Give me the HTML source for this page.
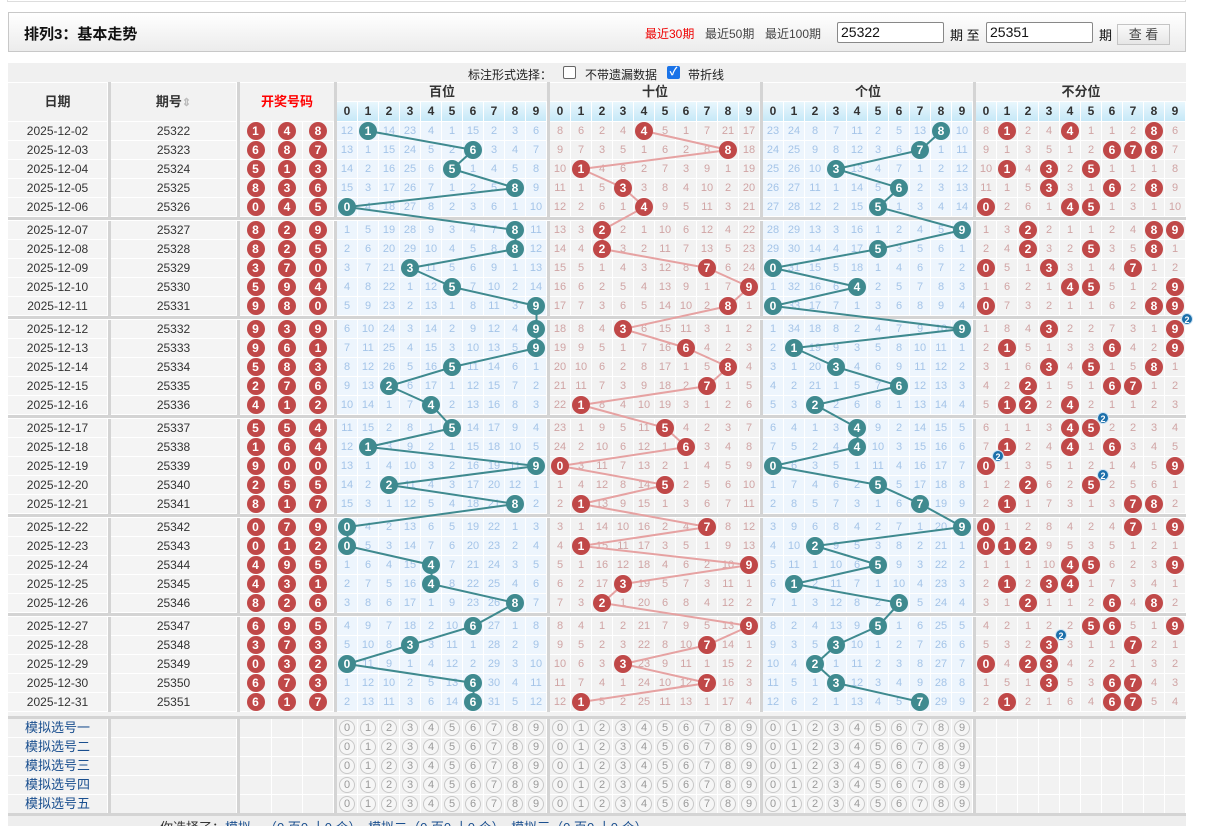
<!DOCTYPE html>
<html><head><meta charset="utf-8">
<style>
*{margin:0;padding:0;box-sizing:border-box}
body{width:1216px;height:826px;overflow:hidden;background:#fff;font-family:"Liberation Sans","Noto Sans CJK SC",sans-serif;position:relative;color:#333}
.a{position:absolute}
.r{position:absolute;left:8px;height:19px;width:1178px;display:flex;background:#fff}
.r>*{display:block;flex:none;height:18px;line-height:18px;margin-right:1px;text-align:center;font-size:11px}
e{width:99px;background:#f4f4f4;color:#333;font-size:12px!important}
f{width:125px;background:#f4f4f4;color:#333;font-size:12px!important}
g{width:30px;background:#f4f4f4}
g:first-of-type{width:31px}
.r>b{width:3px;height:19px;background:#d4d4d4;margin-right:0}
x{width:20px;background:#edf5fd;color:#a4c4e8}
y{width:20px;background:#f2f2f2;color:#d0a4a4}
k{display:inline-block;width:18px;height:18px;border-radius:50%;line-height:18px;color:#fff;font-weight:bold;font-size:12px;background:#c04848;position:relative;z-index:2;vertical-align:top}
x k{background:#3f8a8f}
m{position:absolute;top:-7px;right:-9px;width:12px;height:12px;border-radius:50%;background:#1b6faa;font-size:9px;line-height:12px;color:#fff;border:1px solid #cfe3f3}
.s e{color:#1a4f8f;font-size:13px!important;background:#f2f2f2}
.s f,.s g{background:#f2f2f2}
.s x,.s y{background:#f2f2f2}
o{display:inline-block;width:16px;height:16px;border:1px solid #c8c8c8;border-radius:50%;line-height:14px;color:#999;font-size:11px;margin-top:1px;background:#f6f6f6}
.hc{position:absolute;background:#f2f2f2;text-align:center;font-weight:bold;font-size:13px;color:#333}
.dg{position:absolute;top:102px;height:19px;display:flex}
.dg i{display:block;width:20px;margin-right:1px;height:19px;line-height:19px;text-align:center;font-style:normal;font-weight:bold;font-size:12px;background:linear-gradient(#e9f7fd,#c6e8f7);color:#333}
.vs{position:absolute;width:3px;background:#d4d4d4;top:82px;height:40px}
.hb{position:absolute;left:8px;width:1178px;height:3px;background:#d4d4d4}
</style></head><body>
<div class="a" style="left:7px;top:-6px;width:1179px;height:8px;border:1px solid #ddd"></div>
<div class="a" style="left:8px;top:12px;width:1178px;height:40px;border:1px solid #c8c8c8;background:linear-gradient(#fff,#ececec)"></div>
<div class="a" style="left:24px;top:23px;font-size:15px;font-weight:bold;color:#111">排列3：基本走势</div>
<div class="a" style="left:645px;top:25px;font-size:12px;color:#e00">最近30期</div>
<div class="a" style="left:705px;top:25px;font-size:12px;color:#444">最近50期</div>
<div class="a" style="left:765px;top:25px;font-size:12px;color:#444">最近100期</div>
<div class="a" style="left:837px;top:22px;width:107px;height:21px;border:1px solid #888;border-radius:2px;background:#fff;font-size:14px;line-height:19px;padding-left:3px;color:#111">25322</div>
<div class="a" style="left:950px;top:25px;font-size:13px;color:#111">期 至</div>
<div class="a" style="left:986px;top:22px;width:107px;height:21px;border:1px solid #888;border-radius:2px;background:#fff;font-size:14px;line-height:19px;padding-left:3px;color:#111">25351</div>
<div class="a" style="left:1099px;top:25px;font-size:13px;color:#111">期</div>
<div class="a" style="left:1117px;top:24px;width:53px;height:21px;border:1px solid #c4c4c4;background:linear-gradient(#fafafa,#e6e6e6);font-size:13px;line-height:19px;text-align:center;color:#444">查 看</div>

<div class="a" style="left:8px;top:63px;width:1178px;height:19px;background:#f0f0f0"></div>
<div class="a" style="left:468px;top:66px;font-size:12px;color:#222">标注形式选择：</div>
<div class="a" style="left:563px;top:66px;width:13px;height:13px;border:1px solid #666;border-radius:2px;background:#fff"></div>
<div class="a" style="left:585px;top:66px;font-size:12px;color:#222">不带遗漏数据</div>
<div class="a" style="left:667px;top:66px;width:13px;height:13px;border-radius:2px;background:#1a73e8;color:#fff;font-size:11px;line-height:13px;text-align:center;font-weight:bold">✓</div>
<div class="a" style="left:688px;top:66px;font-size:12px;color:#222">带折线</div>

<div class="hc" style="left:8px;top:83px;width:99px;height:38px;line-height:38px">日期</div>
<div class="hc" style="left:111px;top:83px;width:125px;height:38px;line-height:38px">期号<span style="color:#bbb;font-size:11px">⇕</span></div>
<div class="hc" style="left:240px;top:83px;width:94px;height:38px;line-height:38px;color:#f00">开奖号码</div>
<div class="hc" style="left:337px;top:83px;width:210px;height:18px;line-height:18px">百位</div>
<div class="hc" style="left:550px;top:83px;width:210px;height:18px;line-height:18px">十位</div>
<div class="hc" style="left:763px;top:83px;width:210px;height:18px;line-height:18px">个位</div>
<div class="hc" style="left:976px;top:83px;width:210px;height:18px;line-height:18px">不分位</div>
<div class="dg" style="left:337px"><i>0</i><i>1</i><i>2</i><i>3</i><i>4</i><i>5</i><i>6</i><i>7</i><i>8</i><i>9</i></div>
<div class="dg" style="left:550px"><i>0</i><i>1</i><i>2</i><i>3</i><i>4</i><i>5</i><i>6</i><i>7</i><i>8</i><i>9</i></div>
<div class="dg" style="left:763px"><i>0</i><i>1</i><i>2</i><i>3</i><i>4</i><i>5</i><i>6</i><i>7</i><i>8</i><i>9</i></div>
<div class="dg" style="left:976px"><i>0</i><i>1</i><i>2</i><i>3</i><i>4</i><i>5</i><i>6</i><i>7</i><i>8</i><i>9</i></div>
<div class="vs" style="left:108px"></div><div class="vs" style="left:237px"></div><div class="vs" style="left:334px"></div><div class="vs" style="left:547px"></div><div class="vs" style="left:760px"></div><div class="vs" style="left:973px"></div>

<div class="r" style="top:122px"><e>2025-12-02</e><b></b><f>25322</f><b></b><g><k>1</k></g><g><k>4</k></g><g><k>8</k></g><b></b><x>12</x><x><k>1</k></x><x>14</x><x>23</x><x>4</x><x>1</x><x>15</x><x>2</x><x>3</x><x>6</x><b></b><y>8</y><y>6</y><y>2</y><y>4</y><y><k>4</k></y><y>5</y><y>1</y><y>7</y><y>21</y><y>17</y><b></b><x>23</x><x>24</x><x>8</x><x>7</x><x>11</x><x>2</x><x>5</x><x>13</x><x><k>8</k></x><x>10</x><b></b><y>8</y><y><k>1</k></y><y>2</y><y>4</y><y><k>4</k></y><y>1</y><y>1</y><y>2</y><y><k>8</k></y><y>6</y></div>
<div class="r" style="top:141px"><e>2025-12-03</e><b></b><f>25323</f><b></b><g><k>6</k></g><g><k>8</k></g><g><k>7</k></g><b></b><x>13</x><x>1</x><x>15</x><x>24</x><x>5</x><x>2</x><x><k>6</k></x><x>3</x><x>4</x><x>7</x><b></b><y>9</y><y>7</y><y>3</y><y>5</y><y>1</y><y>6</y><y>2</y><y>8</y><y><k>8</k></y><y>18</y><b></b><x>24</x><x>25</x><x>9</x><x>8</x><x>12</x><x>3</x><x>6</x><x><k>7</k></x><x>1</x><x>11</x><b></b><y>9</y><y>1</y><y>3</y><y>5</y><y>1</y><y>2</y><y><k>6</k></y><y><k>7</k></y><y><k>8</k></y><y>7</y></div>
<div class="r" style="top:160px"><e>2025-12-04</e><b></b><f>25324</f><b></b><g><k>5</k></g><g><k>1</k></g><g><k>3</k></g><b></b><x>14</x><x>2</x><x>16</x><x>25</x><x>6</x><x><k>5</k></x><x>1</x><x>4</x><x>5</x><x>8</x><b></b><y>10</y><y><k>1</k></y><y>4</y><y>6</y><y>2</y><y>7</y><y>3</y><y>9</y><y>1</y><y>19</y><b></b><x>25</x><x>26</x><x>10</x><x><k>3</k></x><x>13</x><x>4</x><x>7</x><x>1</x><x>2</x><x>12</x><b></b><y>10</y><y><k>1</k></y><y>4</y><y><k>3</k></y><y>2</y><y><k>5</k></y><y>1</y><y>1</y><y>1</y><y>8</y></div>
<div class="r" style="top:179px"><e>2025-12-05</e><b></b><f>25325</f><b></b><g><k>8</k></g><g><k>3</k></g><g><k>6</k></g><b></b><x>15</x><x>3</x><x>17</x><x>26</x><x>7</x><x>1</x><x>2</x><x>5</x><x><k>8</k></x><x>9</x><b></b><y>11</y><y>1</y><y>5</y><y><k>3</k></y><y>3</y><y>8</y><y>4</y><y>10</y><y>2</y><y>20</y><b></b><x>26</x><x>27</x><x>11</x><x>1</x><x>14</x><x>5</x><x><k>6</k></x><x>2</x><x>3</x><x>13</x><b></b><y>11</y><y>1</y><y>5</y><y><k>3</k></y><y>3</y><y>1</y><y><k>6</k></y><y>2</y><y><k>8</k></y><y>9</y></div>
<div class="r" style="top:198px"><e>2025-12-06</e><b></b><f>25326</f><b></b><g><k>0</k></g><g><k>4</k></g><g><k>5</k></g><b></b><x><k>0</k></x><x>4</x><x>18</x><x>27</x><x>8</x><x>2</x><x>3</x><x>6</x><x>1</x><x>10</x><b></b><y>12</y><y>2</y><y>6</y><y>1</y><y><k>4</k></y><y>9</y><y>5</y><y>11</y><y>3</y><y>21</y><b></b><x>27</x><x>28</x><x>12</x><x>2</x><x>15</x><x><k>5</k></x><x>1</x><x>3</x><x>4</x><x>14</x><b></b><y><k>0</k></y><y>2</y><y>6</y><y>1</y><y><k>4</k></y><y><k>5</k></y><y>1</y><y>3</y><y>1</y><y>10</y></div>

<div class="r" style="top:221px"><e>2025-12-07</e><b></b><f>25327</f><b></b><g><k>8</k></g><g><k>2</k></g><g><k>9</k></g><b></b><x>1</x><x>5</x><x>19</x><x>28</x><x>9</x><x>3</x><x>4</x><x>7</x><x><k>8</k></x><x>11</x><b></b><y>13</y><y>3</y><y><k>2</k></y><y>2</y><y>1</y><y>10</y><y>6</y><y>12</y><y>4</y><y>22</y><b></b><x>28</x><x>29</x><x>13</x><x>3</x><x>16</x><x>1</x><x>2</x><x>4</x><x>5</x><x><k>9</k></x><b></b><y>1</y><y>3</y><y><k>2</k></y><y>2</y><y>1</y><y>1</y><y>2</y><y>4</y><y><k>8</k></y><y><k>9</k></y></div>
<div class="r" style="top:240px"><e>2025-12-08</e><b></b><f>25328</f><b></b><g><k>8</k></g><g><k>2</k></g><g><k>5</k></g><b></b><x>2</x><x>6</x><x>20</x><x>29</x><x>10</x><x>4</x><x>5</x><x>8</x><x><k>8</k></x><x>12</x><b></b><y>14</y><y>4</y><y><k>2</k></y><y>3</y><y>2</y><y>11</y><y>7</y><y>13</y><y>5</y><y>23</y><b></b><x>29</x><x>30</x><x>14</x><x>4</x><x>17</x><x><k>5</k></x><x>3</x><x>5</x><x>6</x><x>1</x><b></b><y>2</y><y>4</y><y><k>2</k></y><y>3</y><y>2</y><y><k>5</k></y><y>3</y><y>5</y><y><k>8</k></y><y>1</y></div>
<div class="r" style="top:259px"><e>2025-12-09</e><b></b><f>25329</f><b></b><g><k>3</k></g><g><k>7</k></g><g><k>0</k></g><b></b><x>3</x><x>7</x><x>21</x><x><k>3</k></x><x>11</x><x>5</x><x>6</x><x>9</x><x>1</x><x>13</x><b></b><y>15</y><y>5</y><y>1</y><y>4</y><y>3</y><y>12</y><y>8</y><y><k>7</k></y><y>6</y><y>24</y><b></b><x><k>0</k></x><x>31</x><x>15</x><x>5</x><x>18</x><x>1</x><x>4</x><x>6</x><x>7</x><x>2</x><b></b><y><k>0</k></y><y>5</y><y>1</y><y><k>3</k></y><y>3</y><y>1</y><y>4</y><y><k>7</k></y><y>1</y><y>2</y></div>
<div class="r" style="top:278px"><e>2025-12-10</e><b></b><f>25330</f><b></b><g><k>5</k></g><g><k>9</k></g><g><k>4</k></g><b></b><x>4</x><x>8</x><x>22</x><x>1</x><x>12</x><x><k>5</k></x><x>7</x><x>10</x><x>2</x><x>14</x><b></b><y>16</y><y>6</y><y>2</y><y>5</y><y>4</y><y>13</y><y>9</y><y>1</y><y>7</y><y><k>9</k></y><b></b><x>1</x><x>32</x><x>16</x><x>6</x><x><k>4</k></x><x>2</x><x>5</x><x>7</x><x>8</x><x>3</x><b></b><y>1</y><y>6</y><y>2</y><y>1</y><y><k>4</k></y><y><k>5</k></y><y>5</y><y>1</y><y>2</y><y><k>9</k></y></div>
<div class="r" style="top:297px"><e>2025-12-11</e><b></b><f>25331</f><b></b><g><k>9</k></g><g><k>8</k></g><g><k>0</k></g><b></b><x>5</x><x>9</x><x>23</x><x>2</x><x>13</x><x>1</x><x>8</x><x>11</x><x>3</x><x><k>9</k></x><b></b><y>17</y><y>7</y><y>3</y><y>6</y><y>5</y><y>14</y><y>10</y><y>2</y><y><k>8</k></y><y>1</y><b></b><x><k>0</k></x><x>33</x><x>17</x><x>7</x><x>1</x><x>3</x><x>6</x><x>8</x><x>9</x><x>4</x><b></b><y><k>0</k></y><y>7</y><y>3</y><y>2</y><y>1</y><y>1</y><y>6</y><y>2</y><y><k>8</k></y><y><k>9</k></y></div>

<div class="r" style="top:320px"><e>2025-12-12</e><b></b><f>25332</f><b></b><g><k>9</k></g><g><k>3</k></g><g><k>9</k></g><b></b><x>6</x><x>10</x><x>24</x><x>3</x><x>14</x><x>2</x><x>9</x><x>12</x><x>4</x><x><k>9</k></x><b></b><y>18</y><y>8</y><y>4</y><y><k>3</k></y><y>6</y><y>15</y><y>11</y><y>3</y><y>1</y><y>2</y><b></b><x>1</x><x>34</x><x>18</x><x>8</x><x>2</x><x>4</x><x>7</x><x>9</x><x>10</x><x><k>9</k></x><b></b><y>1</y><y>8</y><y>4</y><y><k>3</k></y><y>2</y><y>2</y><y>7</y><y>3</y><y>1</y><y><k>9<m>2</m></k></y></div>
<div class="r" style="top:339px"><e>2025-12-13</e><b></b><f>25333</f><b></b><g><k>9</k></g><g><k>6</k></g><g><k>1</k></g><b></b><x>7</x><x>11</x><x>25</x><x>4</x><x>15</x><x>3</x><x>10</x><x>13</x><x>5</x><x><k>9</k></x><b></b><y>19</y><y>9</y><y>5</y><y>1</y><y>7</y><y>16</y><y><k>6</k></y><y>4</y><y>2</y><y>3</y><b></b><x>2</x><x><k>1</k></x><x>19</x><x>9</x><x>3</x><x>5</x><x>8</x><x>10</x><x>11</x><x>1</x><b></b><y>2</y><y><k>1</k></y><y>5</y><y>1</y><y>3</y><y>3</y><y><k>6</k></y><y>4</y><y>2</y><y><k>9</k></y></div>
<div class="r" style="top:358px"><e>2025-12-14</e><b></b><f>25334</f><b></b><g><k>5</k></g><g><k>8</k></g><g><k>3</k></g><b></b><x>8</x><x>12</x><x>26</x><x>5</x><x>16</x><x><k>5</k></x><x>11</x><x>14</x><x>6</x><x>1</x><b></b><y>20</y><y>10</y><y>6</y><y>2</y><y>8</y><y>17</y><y>1</y><y>5</y><y><k>8</k></y><y>4</y><b></b><x>3</x><x>1</x><x>20</x><x><k>3</k></x><x>4</x><x>6</x><x>9</x><x>11</x><x>12</x><x>2</x><b></b><y>3</y><y>1</y><y>6</y><y><k>3</k></y><y>4</y><y><k>5</k></y><y>1</y><y>5</y><y><k>8</k></y><y>1</y></div>
<div class="r" style="top:377px"><e>2025-12-15</e><b></b><f>25335</f><b></b><g><k>2</k></g><g><k>7</k></g><g><k>6</k></g><b></b><x>9</x><x>13</x><x><k>2</k></x><x>6</x><x>17</x><x>1</x><x>12</x><x>15</x><x>7</x><x>2</x><b></b><y>21</y><y>11</y><y>7</y><y>3</y><y>9</y><y>18</y><y>2</y><y><k>7</k></y><y>1</y><y>5</y><b></b><x>4</x><x>2</x><x>21</x><x>1</x><x>5</x><x>7</x><x><k>6</k></x><x>12</x><x>13</x><x>3</x><b></b><y>4</y><y>2</y><y><k>2</k></y><y>1</y><y>5</y><y>1</y><y><k>6</k></y><y><k>7</k></y><y>1</y><y>2</y></div>
<div class="r" style="top:396px"><e>2025-12-16</e><b></b><f>25336</f><b></b><g><k>4</k></g><g><k>1</k></g><g><k>2</k></g><b></b><x>10</x><x>14</x><x>1</x><x>7</x><x><k>4</k></x><x>2</x><x>13</x><x>16</x><x>8</x><x>3</x><b></b><y>22</y><y><k>1</k></y><y>8</y><y>4</y><y>10</y><y>19</y><y>3</y><y>1</y><y>2</y><y>6</y><b></b><x>5</x><x>3</x><x><k>2</k></x><x>2</x><x>6</x><x>8</x><x>1</x><x>13</x><x>14</x><x>4</x><b></b><y>5</y><y><k>1</k></y><y><k>2</k></y><y>2</y><y><k>4</k></y><y>2</y><y>1</y><y>1</y><y>2</y><y>3</y></div>

<div class="r" style="top:419px"><e>2025-12-17</e><b></b><f>25337</f><b></b><g><k>5</k></g><g><k>5</k></g><g><k>4</k></g><b></b><x>11</x><x>15</x><x>2</x><x>8</x><x>1</x><x><k>5</k></x><x>14</x><x>17</x><x>9</x><x>4</x><b></b><y>23</y><y>1</y><y>9</y><y>5</y><y>11</y><y><k>5</k></y><y>4</y><y>2</y><y>3</y><y>7</y><b></b><x>6</x><x>4</x><x>1</x><x>3</x><x><k>4</k></x><x>9</x><x>2</x><x>14</x><x>15</x><x>5</x><b></b><y>6</y><y>1</y><y>1</y><y>3</y><y><k>4</k></y><y><k>5<m>2</m></k></y><y>2</y><y>2</y><y>3</y><y>4</y></div>
<div class="r" style="top:438px"><e>2025-12-18</e><b></b><f>25338</f><b></b><g><k>1</k></g><g><k>6</k></g><g><k>4</k></g><b></b><x>12</x><x><k>1</k></x><x>3</x><x>9</x><x>2</x><x>1</x><x>15</x><x>18</x><x>10</x><x>5</x><b></b><y>24</y><y>2</y><y>10</y><y>6</y><y>12</y><y>1</y><y><k>6</k></y><y>3</y><y>4</y><y>8</y><b></b><x>7</x><x>5</x><x>2</x><x>4</x><x><k>4</k></x><x>10</x><x>3</x><x>15</x><x>16</x><x>6</x><b></b><y>7</y><y><k>1</k></y><y>2</y><y>4</y><y><k>4</k></y><y>1</y><y><k>6</k></y><y>3</y><y>4</y><y>5</y></div>
<div class="r" style="top:457px"><e>2025-12-19</e><b></b><f>25339</f><b></b><g><k>9</k></g><g><k>0</k></g><g><k>0</k></g><b></b><x>13</x><x>1</x><x>4</x><x>10</x><x>3</x><x>2</x><x>16</x><x>19</x><x>11</x><x><k>9</k></x><b></b><y><k>0</k></y><y>3</y><y>11</y><y>7</y><y>13</y><y>2</y><y>1</y><y>4</y><y>5</y><y>9</y><b></b><x><k>0</k></x><x>6</x><x>3</x><x>5</x><x>1</x><x>11</x><x>4</x><x>16</x><x>17</x><x>7</x><b></b><y><k>0<m>2</m></k></y><y>1</y><y>3</y><y>5</y><y>1</y><y>2</y><y>1</y><y>4</y><y>5</y><y><k>9</k></y></div>
<div class="r" style="top:476px"><e>2025-12-20</e><b></b><f>25340</f><b></b><g><k>2</k></g><g><k>5</k></g><g><k>5</k></g><b></b><x>14</x><x>2</x><x><k>2</k></x><x>11</x><x>4</x><x>3</x><x>17</x><x>20</x><x>12</x><x>1</x><b></b><y>1</y><y>4</y><y>12</y><y>8</y><y>14</y><y><k>5</k></y><y>2</y><y>5</y><y>6</y><y>10</y><b></b><x>1</x><x>7</x><x>4</x><x>6</x><x>2</x><x><k>5</k></x><x>5</x><x>17</x><x>18</x><x>8</x><b></b><y>1</y><y>2</y><y><k>2</k></y><y>6</y><y>2</y><y><k>5<m>2</m></k></y><y>2</y><y>5</y><y>6</y><y>1</y></div>
<div class="r" style="top:495px"><e>2025-12-21</e><b></b><f>25341</f><b></b><g><k>8</k></g><g><k>1</k></g><g><k>7</k></g><b></b><x>15</x><x>3</x><x>1</x><x>12</x><x>5</x><x>4</x><x>18</x><x>21</x><x><k>8</k></x><x>2</x><b></b><y>2</y><y><k>1</k></y><y>13</y><y>9</y><y>15</y><y>1</y><y>3</y><y>6</y><y>7</y><y>11</y><b></b><x>2</x><x>8</x><x>5</x><x>7</x><x>3</x><x>1</x><x>6</x><x><k>7</k></x><x>19</x><x>9</x><b></b><y>2</y><y><k>1</k></y><y>1</y><y>7</y><y>3</y><y>1</y><y>3</y><y><k>7</k></y><y><k>8</k></y><y>2</y></div>

<div class="r" style="top:518px"><e>2025-12-22</e><b></b><f>25342</f><b></b><g><k>0</k></g><g><k>7</k></g><g><k>9</k></g><b></b><x><k>0</k></x><x>4</x><x>2</x><x>13</x><x>6</x><x>5</x><x>19</x><x>22</x><x>1</x><x>3</x><b></b><y>3</y><y>1</y><y>14</y><y>10</y><y>16</y><y>2</y><y>4</y><y><k>7</k></y><y>8</y><y>12</y><b></b><x>3</x><x>9</x><x>6</x><x>8</x><x>4</x><x>2</x><x>7</x><x>1</x><x>20</x><x><k>9</k></x><b></b><y><k>0</k></y><y>1</y><y>2</y><y>8</y><y>4</y><y>2</y><y>4</y><y><k>7</k></y><y>1</y><y><k>9</k></y></div>
<div class="r" style="top:537px"><e>2025-12-23</e><b></b><f>25343</f><b></b><g><k>0</k></g><g><k>1</k></g><g><k>2</k></g><b></b><x><k>0</k></x><x>5</x><x>3</x><x>14</x><x>7</x><x>6</x><x>20</x><x>23</x><x>2</x><x>4</x><b></b><y>4</y><y><k>1</k></y><y>15</y><y>11</y><y>17</y><y>3</y><y>5</y><y>1</y><y>9</y><y>13</y><b></b><x>4</x><x>10</x><x><k>2</k></x><x>9</x><x>5</x><x>3</x><x>8</x><x>2</x><x>21</x><x>1</x><b></b><y><k>0</k></y><y><k>1</k></y><y><k>2</k></y><y>9</y><y>5</y><y>3</y><y>5</y><y>1</y><y>2</y><y>1</y></div>
<div class="r" style="top:556px"><e>2025-12-24</e><b></b><f>25344</f><b></b><g><k>4</k></g><g><k>9</k></g><g><k>5</k></g><b></b><x>1</x><x>6</x><x>4</x><x>15</x><x><k>4</k></x><x>7</x><x>21</x><x>24</x><x>3</x><x>5</x><b></b><y>5</y><y>1</y><y>16</y><y>12</y><y>18</y><y>4</y><y>6</y><y>2</y><y>10</y><y><k>9</k></y><b></b><x>5</x><x>11</x><x>1</x><x>10</x><x>6</x><x><k>5</k></x><x>9</x><x>3</x><x>22</x><x>2</x><b></b><y>1</y><y>1</y><y>1</y><y>10</y><y><k>4</k></y><y><k>5</k></y><y>6</y><y>2</y><y>3</y><y><k>9</k></y></div>
<div class="r" style="top:575px"><e>2025-12-25</e><b></b><f>25345</f><b></b><g><k>4</k></g><g><k>3</k></g><g><k>1</k></g><b></b><x>2</x><x>7</x><x>5</x><x>16</x><x><k>4</k></x><x>8</x><x>22</x><x>25</x><x>4</x><x>6</x><b></b><y>6</y><y>2</y><y>17</y><y><k>3</k></y><y>19</y><y>5</y><y>7</y><y>3</y><y>11</y><y>1</y><b></b><x>6</x><x><k>1</k></x><x>2</x><x>11</x><x>7</x><x>1</x><x>10</x><x>4</x><x>23</x><x>3</x><b></b><y>2</y><y><k>1</k></y><y>2</y><y><k>3</k></y><y><k>4</k></y><y>1</y><y>7</y><y>3</y><y>4</y><y>1</y></div>
<div class="r" style="top:594px"><e>2025-12-26</e><b></b><f>25346</f><b></b><g><k>8</k></g><g><k>2</k></g><g><k>6</k></g><b></b><x>3</x><x>8</x><x>6</x><x>17</x><x>1</x><x>9</x><x>23</x><x>26</x><x><k>8</k></x><x>7</x><b></b><y>7</y><y>3</y><y><k>2</k></y><y>1</y><y>20</y><y>6</y><y>8</y><y>4</y><y>12</y><y>2</y><b></b><x>7</x><x>1</x><x>3</x><x>12</x><x>8</x><x>2</x><x><k>6</k></x><x>5</x><x>24</x><x>4</x><b></b><y>3</y><y>1</y><y><k>2</k></y><y>1</y><y>1</y><y>2</y><y><k>6</k></y><y>4</y><y><k>8</k></y><y>2</y></div>

<div class="r" style="top:617px"><e>2025-12-27</e><b></b><f>25347</f><b></b><g><k>6</k></g><g><k>9</k></g><g><k>5</k></g><b></b><x>4</x><x>9</x><x>7</x><x>18</x><x>2</x><x>10</x><x><k>6</k></x><x>27</x><x>1</x><x>8</x><b></b><y>8</y><y>4</y><y>1</y><y>2</y><y>21</y><y>7</y><y>9</y><y>5</y><y>13</y><y><k>9</k></y><b></b><x>8</x><x>2</x><x>4</x><x>13</x><x>9</x><x><k>5</k></x><x>1</x><x>6</x><x>25</x><x>5</x><b></b><y>4</y><y>2</y><y>1</y><y>2</y><y>2</y><y><k>5</k></y><y><k>6</k></y><y>5</y><y>1</y><y><k>9</k></y></div>
<div class="r" style="top:636px"><e>2025-12-28</e><b></b><f>25348</f><b></b><g><k>3</k></g><g><k>7</k></g><g><k>3</k></g><b></b><x>5</x><x>10</x><x>8</x><x><k>3</k></x><x>3</x><x>11</x><x>1</x><x>28</x><x>2</x><x>9</x><b></b><y>9</y><y>5</y><y>2</y><y>3</y><y>22</y><y>8</y><y>10</y><y><k>7</k></y><y>14</y><y>1</y><b></b><x>9</x><x>3</x><x>5</x><x><k>3</k></x><x>10</x><x>1</x><x>2</x><x>7</x><x>26</x><x>6</x><b></b><y>5</y><y>3</y><y>2</y><y><k>3<m>2</m></k></y><y>3</y><y>1</y><y>1</y><y><k>7</k></y><y>2</y><y>1</y></div>
<div class="r" style="top:655px"><e>2025-12-29</e><b></b><f>25349</f><b></b><g><k>0</k></g><g><k>3</k></g><g><k>2</k></g><b></b><x><k>0</k></x><x>11</x><x>9</x><x>1</x><x>4</x><x>12</x><x>2</x><x>29</x><x>3</x><x>10</x><b></b><y>10</y><y>6</y><y>3</y><y><k>3</k></y><y>23</y><y>9</y><y>11</y><y>1</y><y>15</y><y>2</y><b></b><x>10</x><x>4</x><x><k>2</k></x><x>1</x><x>11</x><x>2</x><x>3</x><x>8</x><x>27</x><x>7</x><b></b><y><k>0</k></y><y>4</y><y><k>2</k></y><y><k>3</k></y><y>4</y><y>2</y><y>2</y><y>1</y><y>3</y><y>2</y></div>
<div class="r" style="top:674px"><e>2025-12-30</e><b></b><f>25350</f><b></b><g><k>6</k></g><g><k>7</k></g><g><k>3</k></g><b></b><x>1</x><x>12</x><x>10</x><x>2</x><x>5</x><x>13</x><x><k>6</k></x><x>30</x><x>4</x><x>11</x><b></b><y>11</y><y>7</y><y>4</y><y>1</y><y>24</y><y>10</y><y>12</y><y><k>7</k></y><y>16</y><y>3</y><b></b><x>11</x><x>5</x><x>1</x><x><k>3</k></x><x>12</x><x>3</x><x>4</x><x>9</x><x>28</x><x>8</x><b></b><y>1</y><y>5</y><y>1</y><y><k>3</k></y><y>5</y><y>3</y><y><k>6</k></y><y><k>7</k></y><y>4</y><y>3</y></div>
<div class="r" style="top:693px"><e>2025-12-31</e><b></b><f>25351</f><b></b><g><k>6</k></g><g><k>1</k></g><g><k>7</k></g><b></b><x>2</x><x>13</x><x>11</x><x>3</x><x>6</x><x>14</x><x><k>6</k></x><x>31</x><x>5</x><x>12</x><b></b><y>12</y><y><k>1</k></y><y>5</y><y>2</y><y>25</y><y>11</y><y>13</y><y>1</y><y>17</y><y>4</y><b></b><x>12</x><x>6</x><x>2</x><x>1</x><x>13</x><x>4</x><x>5</x><x><k>7</k></x><x>29</x><x>9</x><b></b><y>2</y><y><k>1</k></y><y>2</y><y>1</y><y>6</y><y>4</y><y><k>6</k></y><y><k>7</k></y><y>5</y><y>4</y></div>

<div class="hb" style="top:217px"></div><div class="hb" style="top:316px"></div><div class="hb" style="top:415px"></div><div class="hb" style="top:514px"></div><div class="hb" style="top:613px"></div>

<svg class="a" style="left:0;top:0;z-index:1" width="1216" height="826">
<g fill="none" stroke-width="2" stroke-linejoin="round">
<polyline stroke="#3f8a8f" points="368.5,131 473.5,150 452.5,169 515.5,188 347.5,207 515.5,230 515.5,249 410.5,268 452.5,287 536.5,306 536.5,329 536.5,348 452.5,367 389.5,386 431.5,405 452.5,428 368.5,447 536.5,466 389.5,485 515.5,504 347.5,527 347.5,546 431.5,565 431.5,584 515.5,603 473.5,626 410.5,645 347.5,664 473.5,683 473.5,702"/>
<polyline stroke="#e6a2a2" points="644.5,131 728.5,150 581.5,169 623.5,188 644.5,207 602.5,230 602.5,249 707.5,268 749.5,287 728.5,306 623.5,329 686.5,348 728.5,367 707.5,386 581.5,405 665.5,428 686.5,447 560.5,466 665.5,485 581.5,504 707.5,527 581.5,546 749.5,565 623.5,584 602.5,603 749.5,626 707.5,645 623.5,664 707.5,683 581.5,702"/>
<polyline stroke="#3f8a8f" points="941.5,131 920.5,150 836.5,169 899.5,188 878.5,207 962.5,230 878.5,249 773.5,268 857.5,287 773.5,306 962.5,329 794.5,348 836.5,367 899.5,386 815.5,405 857.5,428 857.5,447 773.5,466 878.5,485 920.5,504 962.5,527 815.5,546 878.5,565 794.5,584 899.5,603 878.5,626 836.5,645 815.5,664 836.5,683 920.5,702"/>
</g></svg>

<div class="a" style="left:8px;top:712px;width:1178px;height:4px;background:#f2f2f2"></div>
<div class="hb" style="top:716px"></div>

<div class="r s" style="top:719px"><e>模拟选号一</e><b></b><f></f><b></b><g></g><g></g><g></g><b></b><x><o>0</o></x><x><o>1</o></x><x><o>2</o></x><x><o>3</o></x><x><o>4</o></x><x><o>5</o></x><x><o>6</o></x><x><o>7</o></x><x><o>8</o></x><x><o>9</o></x><b></b><y><o>0</o></y><y><o>1</o></y><y><o>2</o></y><y><o>3</o></y><y><o>4</o></y><y><o>5</o></y><y><o>6</o></y><y><o>7</o></y><y><o>8</o></y><y><o>9</o></y><b></b><x><o>0</o></x><x><o>1</o></x><x><o>2</o></x><x><o>3</o></x><x><o>4</o></x><x><o>5</o></x><x><o>6</o></x><x><o>7</o></x><x><o>8</o></x><x><o>9</o></x><b></b><y></y><y></y><y></y><y></y><y></y><y></y><y></y><y></y><y></y><y></y></div>
<div class="r s" style="top:738px"><e>模拟选号二</e><b></b><f></f><b></b><g></g><g></g><g></g><b></b><x><o>0</o></x><x><o>1</o></x><x><o>2</o></x><x><o>3</o></x><x><o>4</o></x><x><o>5</o></x><x><o>6</o></x><x><o>7</o></x><x><o>8</o></x><x><o>9</o></x><b></b><y><o>0</o></y><y><o>1</o></y><y><o>2</o></y><y><o>3</o></y><y><o>4</o></y><y><o>5</o></y><y><o>6</o></y><y><o>7</o></y><y><o>8</o></y><y><o>9</o></y><b></b><x><o>0</o></x><x><o>1</o></x><x><o>2</o></x><x><o>3</o></x><x><o>4</o></x><x><o>5</o></x><x><o>6</o></x><x><o>7</o></x><x><o>8</o></x><x><o>9</o></x><b></b><y></y><y></y><y></y><y></y><y></y><y></y><y></y><y></y><y></y><y></y></div>
<div class="r s" style="top:757px"><e>模拟选号三</e><b></b><f></f><b></b><g></g><g></g><g></g><b></b><x><o>0</o></x><x><o>1</o></x><x><o>2</o></x><x><o>3</o></x><x><o>4</o></x><x><o>5</o></x><x><o>6</o></x><x><o>7</o></x><x><o>8</o></x><x><o>9</o></x><b></b><y><o>0</o></y><y><o>1</o></y><y><o>2</o></y><y><o>3</o></y><y><o>4</o></y><y><o>5</o></y><y><o>6</o></y><y><o>7</o></y><y><o>8</o></y><y><o>9</o></y><b></b><x><o>0</o></x><x><o>1</o></x><x><o>2</o></x><x><o>3</o></x><x><o>4</o></x><x><o>5</o></x><x><o>6</o></x><x><o>7</o></x><x><o>8</o></x><x><o>9</o></x><b></b><y></y><y></y><y></y><y></y><y></y><y></y><y></y><y></y><y></y><y></y></div>
<div class="r s" style="top:776px"><e>模拟选号四</e><b></b><f></f><b></b><g></g><g></g><g></g><b></b><x><o>0</o></x><x><o>1</o></x><x><o>2</o></x><x><o>3</o></x><x><o>4</o></x><x><o>5</o></x><x><o>6</o></x><x><o>7</o></x><x><o>8</o></x><x><o>9</o></x><b></b><y><o>0</o></y><y><o>1</o></y><y><o>2</o></y><y><o>3</o></y><y><o>4</o></y><y><o>5</o></y><y><o>6</o></y><y><o>7</o></y><y><o>8</o></y><y><o>9</o></y><b></b><x><o>0</o></x><x><o>1</o></x><x><o>2</o></x><x><o>3</o></x><x><o>4</o></x><x><o>5</o></x><x><o>6</o></x><x><o>7</o></x><x><o>8</o></x><x><o>9</o></x><b></b><y></y><y></y><y></y><y></y><y></y><y></y><y></y><y></y><y></y><y></y></div>
<div class="r s" style="top:795px"><e>模拟选号五</e><b></b><f></f><b></b><g></g><g></g><g></g><b></b><x><o>0</o></x><x><o>1</o></x><x><o>2</o></x><x><o>3</o></x><x><o>4</o></x><x><o>5</o></x><x><o>6</o></x><x><o>7</o></x><x><o>8</o></x><x><o>9</o></x><b></b><y><o>0</o></y><y><o>1</o></y><y><o>2</o></y><y><o>3</o></y><y><o>4</o></y><y><o>5</o></y><y><o>6</o></y><y><o>7</o></y><y><o>8</o></y><y><o>9</o></y><b></b><x><o>0</o></x><x><o>1</o></x><x><o>2</o></x><x><o>3</o></x><x><o>4</o></x><x><o>5</o></x><x><o>6</o></x><x><o>7</o></x><x><o>8</o></x><x><o>9</o></x><b></b><y></y><y></y><y></y><y></y><y></y><y></y><y></y><y></y><y></y><y></y></div>

<div class="hb" style="top:813px"></div>
<div class="a" style="left:8px;top:816px;width:1178px;height:10px;background:#eee;overflow:hidden"><div style="position:absolute;left:152px;top:1px;font-size:13px;white-space:nowrap;color:#333">你选择了：<span style="color:#1a4f8f">模拟一（0 百0 十0 个）</span>，<span style="color:#1a4f8f">模拟二（0 百0 十0 个）</span>，<span style="color:#1a4f8f">模拟三（0 百0 十0 个）</span></div></div>
</body></html>
